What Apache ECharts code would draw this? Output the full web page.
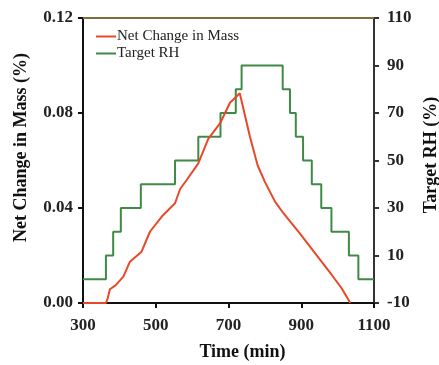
<!DOCTYPE html>
<html>
<head>
<meta charset="utf-8">
<script src="https://cdn.jsdelivr.net/npm/echarts@6/dist/echarts.min.js"></script>
<style>html,body{margin:0;padding:0;background:#fff;}#c{width:439px;height:365px;}</style>
</head>
<body>
<div id="c"></div>
<script>
var xTicks = [300, 500, 700, 900, 1100];
var massTimes = [300, 363, 368, 374, 390, 411, 429, 461, 484, 516, 553, 567, 585, 617, 644, 677, 704, 731, 736, 759, 780, 800, 828, 851, 896, 942, 984, 1011, 1035];
var massValues = [0, 0, 0.002, 0.0058, 0.0075, 0.0111, 0.0174, 0.0216, 0.030, 0.0363, 0.042, 0.048, 0.0518, 0.0588, 0.069, 0.0757, 0.0843, 0.0883, 0.0887, 0.070, 0.058, 0.051, 0.0427, 0.0378, 0.0293, 0.0202, 0.0118, 0.0062, 0];
var rhTimes = [300, 363, 383, 404, 459, 553, 617, 678, 720, 736, 849, 869, 885, 905, 929, 955, 983, 1031, 1057, 1100];
var rhValues = [0, 10, 20, 30, 40, 50, 60, 70, 80, 90, 80, 70, 60, 50, 40, 30, 20, 10, 0, 0];

function zip(a, b) { return a.map(function (t, i) { return [t, b[i]]; }); }
var serif = '"Liberation Serif", "Times New Roman", serif';
var chart = echarts.init(document.getElementById('c'));
chart.setOption({
  animation: false,
  backgroundColor: '#fff',
  grid: { left: 83, right: 65, top: 18, bottom: 62, containLabel: false, outerBoundsMode: 'none' },
  legend: {
    orient: 'vertical', left: 91, top: 24, itemGap: 2,
    icon: 'rect', itemWidth: 20, itemHeight: 2,
    textStyle: { fontFamily: serif, fontSize: 15, color: '#222', padding: [0, 0, 0, -4] },
    data: ['Net Change in Mass', 'Target RH']
  },
  xAxis: [{
    type: 'value', min: 300, max: 1100, interval: 200,
    name: 'Time (min)', nameLocation: 'middle', nameGap: 40,
    nameTextStyle: { fontFamily: serif, fontSize: 18, fontWeight: 'bold', color: '#111', padding: [0, 0, 0, 28] },
    axisLine: { lineStyle: { color: '#111', width: 2 } },
    axisTick: { show: true, inside: false, length: 5, lineStyle: { color: '#111', width: 2 } },
    axisLabel: { fontFamily: serif, fontSize: 17, fontWeight: 'bold', color: '#222', margin: 14,
      formatter: function (v) { return String(v); } },
    splitLine: { show: false }
  }, {
    type: 'value', position: 'top', min: 300, max: 1100,
    axisLine: { show: true, onZero: false, lineStyle: { color: '#7d6e3c', width: 2 } },
    axisTick: { show: false }, axisLabel: { show: false }, splitLine: { show: false }
  }],
  yAxis: [{
    type: 'value', min: 0, max: 0.12, interval: 0.04, position: 'left',
    name: 'Net Change in Mass (%)', nameLocation: 'middle', nameGap: 53,
    nameTextStyle: { fontFamily: serif, fontSize: 18, fontWeight: 'bold', color: '#111', padding: [0, 0, 0, 26] },
    axisLine: { show: true, lineStyle: { color: '#111', width: 2 } },
    axisTick: { show: true, length: 5, lineStyle: { color: '#111', width: 2 } },
    axisLabel: { fontFamily: serif, fontSize: 17, fontWeight: 'bold', color: '#222', margin: 10,
      formatter: function (v) { return v.toFixed(2); } },
    splitLine: { show: false }
  }, {
    type: 'value', min: -10, max: 110, interval: 20, position: 'right',
    name: 'Target RH (%)', nameLocation: 'middle', nameGap: 46, nameRotate: 90,
    nameTextStyle: { fontFamily: serif, fontSize: 18, fontWeight: 'bold', color: '#111', padding: [0, 0, 0, 11] },
    axisLine: { show: true, lineStyle: { color: '#333', width: 2 } },
    axisTick: { show: true, length: 5, lineStyle: { color: '#333', width: 2 } },
    axisLabel: { fontFamily: serif, fontSize: 17, fontWeight: 'bold', color: '#222', margin: 13 },
    splitLine: { show: false }
  }],
  series: [{
    name: 'Net Change in Mass', type: 'line', xAxisIndex: 0, yAxisIndex: 0,
    data: zip(massTimes, massValues), showSymbol: false, symbol: 'none',
    lineStyle: { color: '#e8482a', width: 2 }, itemStyle: { color: '#e8482a' }, z: 3
  }, {
    name: 'Target RH', type: 'line', xAxisIndex: 0, yAxisIndex: 1, step: 'end',
    data: zip(rhTimes, rhValues), showSymbol: false, symbol: 'none',
    lineStyle: { color: '#3f8a45', width: 2 }, itemStyle: { color: '#3f8a45' }, z: 2
  }]
});
</script>
</body>
</html>
